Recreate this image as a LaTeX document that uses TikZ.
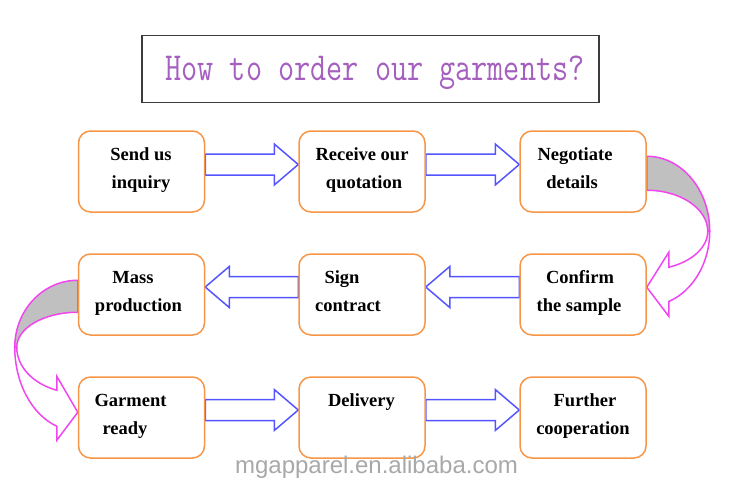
\documentclass[tikz,border=0pt]{standalone}
\usepackage{fontspec}
\setmainfont{Liberation Serif}
\newfontfamily\wmfont{Liberation Sans}
\usetikzlibrary{calc,backgrounds}
\definecolor{boxorange}{RGB}{247,150,70}
\definecolor{arrowblue}{RGB}{85,85,255}
\definecolor{curvemag}{RGB}{240,70,240}
\definecolor{bandgray}{RGB}{192,192,192}
\definecolor{titlepurple}{RGB}{165,95,190}
\definecolor{wmgray}{RGB}{168,168,168}
\definecolor{framegray}{RGB}{60,60,60}
\newcommand\rightblock[3]{%
  \draw[barrow] ($(#1.east)+(0,#3-10.5)$) -- ($(#2.west)+(-24,#3-10.5)$)
    -- ($(#2.west)+(-24,#3-20.5)$) -- ($(#2.west)+(0,#3)$)
    -- ($(#2.west)+(-24,#3+20.5)$) -- ($(#2.west)+(-24,#3+10.5)$)
    -- ($(#1.east)+(0,#3+10.5)$) -- cycle;}
\newcommand\leftblock[3]{%
  \draw[barrow] ($(#1.west)+(0,#3-10.5)$) -- ($(#2.east)+(24,#3-10.5)$)
    -- ($(#2.east)+(24,#3-20.5)$) -- ($(#2.east)+(0,#3)$)
    -- ($(#2.east)+(24,#3+20.5)$) -- ($(#2.east)+(24,#3+10.5)$)
    -- ($(#1.west)+(0,#3+10.5)$) -- cycle;}
\begin{document}
\begin{tikzpicture}[x=1pt,y=-1pt,
  stepbox/.style={draw=boxorange, line width=1.5pt, rounded corners=12pt, fill=white,
    minimum width=126pt, minimum height=81pt, inner sep=0pt},
  lbl/.style={anchor=base, font=\bfseries\fontsize{18.5}{20}\selectfont, inner sep=0pt},
  barrow/.style={draw=arrowblue, line width=1.5pt, fill=white, line join=miter},
  cband/.style={draw=curvemag, line width=1.5pt, fill=bandgray, line join=miter},
  cfront/.style={draw=curvemag, line width=1.5pt, fill=white, line join=miter},
  titlebox/.style={draw=framegray, line width=1.6pt, minimum width=457pt, minimum height=67pt, inner sep=0pt},
]
\useasboundingbox (0,0) rectangle (750,488);

% title
\node[titlebox] (tbox) at (370.5,69) {};
\node[anchor=base, inner sep=0pt, text=titlepurple] (ttl) at (375,80)
  {\scalebox{1}[1.27]{\ttfamily\fontsize{31.3}{33}\selectfont How to order our garments?}};

% boxes
\node[stepbox] (b1) at (141.5,171.5) {};
\node[stepbox] (b2) at (362,171.5) {};
\node[stepbox] (b3) at (583,171.5) {};
\node[stepbox] (b4) at (141.5,294.5) {};
\node[stepbox] (b5) at (362,294.5) {};
\node[stepbox] (b6) at (583,294.5) {};
\node[stepbox] (b7) at (141.5,417.5) {};
\node[stepbox] (b8) at (362,417.5) {};
\node[stepbox] (b9) at (583,417.5) {};

% labels
\node[lbl] (t1a) at (141,160) {Send us};
\node[lbl] (t1b) at (141,188) {inquiry};
\node[lbl] (t2a) at (362,160) {Receive our};
\node[lbl] (t2b) at (364,188) {quotation};
\node[lbl] (t3a) at (575,160) {Negotiate};
\node[lbl] (t3b) at (572,188) {details};
\node[lbl] (t4a) at (133,283) {Mass};
\node[lbl] (t4b) at (138.5,311) {production};
\node[lbl] (t5a) at (342,283) {Sign};
\node[lbl] (t5b) at (348,311) {contract};
\node[lbl] (t6a) at (580,283) {Confirm};
\node[lbl] (t6b) at (579,311) {the sample};
\node[lbl] (t7a) at (130.5,406) {Garment};
\node[lbl] (t7b) at (125,434) {ready};
\node[lbl] (t8a) at (361.5,406) {Delivery};
\node[lbl] (t9a) at (585,406) {Further};
\node[lbl] (t9b) at (583,434) {cooperation};

% watermark
\node[anchor=base, inner sep=0pt, text=wmgray, font=\wmfont\fontsize{24}{26}\selectfont] (wm) at (376.5,473) {mgapparel.en.alibaba.com};

\begin{scope}[on background layer]
  \rightblock{b1}{b2}{-7}
  \rightblock{b2}{b3}{-7}
  \leftblock{b6}{b5}{-7.5}
  \leftblock{b5}{b4}{-7.5}
  \rightblock{b7}{b8}{-7.5}
  \rightblock{b8}{b9}{-7.5}
  % curved arrow b3 -> b6
  \begin{scope}[shift={(b3.north east)}]
    \draw[cband] (0,26) .. controls (34.8,26) and (63,59.6) .. (63,101) -- (61,101)
      .. controls (61,78.4) and (33.7,60) .. (0,60) -- cycle;
    \draw[cfront] (63,101) .. controls (63,132.4) and (46.6,160.4) .. (22,171.3)
      -- (22,186) -- (0,157) -- (22,122) -- (22,137)
      .. controls (45.5,131.3) and (61,116.9) .. (61,101) -- cycle;
  \end{scope}
  % curved arrow b4 -> b7
  \begin{scope}[shift={(b4.north west)}]
    \draw[cband] (0,27) .. controls (-34.8,27) and (-63,57) .. (-63,94) -- (-61,94)
      .. controls (-61,74.7) and (-33.7,59) .. (0,59) -- cycle;
    \draw[cfront] (-63,94) .. controls (-63,129.5) and (-46.1,161.3) .. (-21,173)
      -- (-21,187) -- (0,159) -- (-21,123) -- (-21,137)
      .. controls (-45,130.4) and (-61,113.2) .. (-61,94) -- cycle;
  \end{scope}
\end{scope}
\end{tikzpicture}
\end{document}
